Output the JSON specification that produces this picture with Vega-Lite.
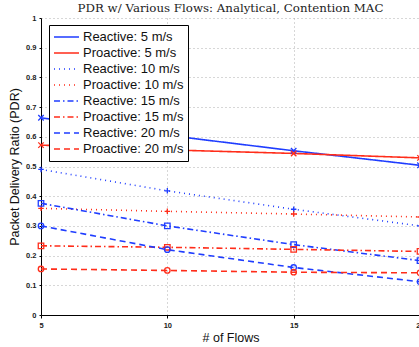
{
  "$schema": "https://vega.github.io/schema/vega-lite/v6.json",
  "autosize": {"type": "none"},
  "padding": {"left": 41, "top": 18, "right": 0, "bottom": 32},
  "width": 379,
  "height": 297,
  "background": "white",
  "title": {
    "text": "PDR w/ Various Flows: Analytical, Contention MAC",
    "font": "DejaVu Serif",
    "fontSize": 11.8,
    "fontWeight": "normal",
    "color": "#222",
    "offset": 3,
    "dy": 4,
    "anchor": "middle"
  },
  "config": {
    "view": {"stroke": null},
    "font": "Liberation Sans"
  },
  "data": {
    "values": [
      {"flows": 5, "series": "Reactive: 5 m/s", "speed": "5", "pdr": 0.664},
      {"flows": 10, "series": "Reactive: 5 m/s", "speed": "5", "pdr": 0.605},
      {"flows": 15, "series": "Reactive: 5 m/s", "speed": "5", "pdr": 0.553},
      {"flows": 20, "series": "Reactive: 5 m/s", "speed": "5", "pdr": 0.504},
      {"flows": 5, "series": "Proactive: 5 m/s", "speed": "5", "pdr": 0.572},
      {"flows": 10, "series": "Proactive: 5 m/s", "speed": "5", "pdr": 0.556},
      {"flows": 15, "series": "Proactive: 5 m/s", "speed": "5", "pdr": 0.544},
      {"flows": 20, "series": "Proactive: 5 m/s", "speed": "5", "pdr": 0.529},
      {"flows": 5, "series": "Reactive: 10 m/s", "speed": "10", "pdr": 0.49},
      {"flows": 10, "series": "Reactive: 10 m/s", "speed": "10", "pdr": 0.418},
      {"flows": 15, "series": "Reactive: 10 m/s", "speed": "10", "pdr": 0.356},
      {"flows": 20, "series": "Reactive: 10 m/s", "speed": "10", "pdr": 0.30},
      {"flows": 5, "series": "Proactive: 10 m/s", "speed": "10", "pdr": 0.359},
      {"flows": 10, "series": "Proactive: 10 m/s", "speed": "10", "pdr": 0.349},
      {"flows": 15, "series": "Proactive: 10 m/s", "speed": "10", "pdr": 0.340},
      {"flows": 20, "series": "Proactive: 10 m/s", "speed": "10", "pdr": 0.33},
      {"flows": 5, "series": "Reactive: 15 m/s", "speed": "15", "pdr": 0.376},
      {"flows": 10, "series": "Reactive: 15 m/s", "speed": "15", "pdr": 0.30},
      {"flows": 15, "series": "Reactive: 15 m/s", "speed": "15", "pdr": 0.237},
      {"flows": 20, "series": "Reactive: 15 m/s", "speed": "15", "pdr": 0.183},
      {"flows": 5, "series": "Proactive: 15 m/s", "speed": "15", "pdr": 0.233},
      {"flows": 10, "series": "Proactive: 15 m/s", "speed": "15", "pdr": 0.228},
      {"flows": 15, "series": "Proactive: 15 m/s", "speed": "15", "pdr": 0.221},
      {"flows": 20, "series": "Proactive: 15 m/s", "speed": "15", "pdr": 0.214},
      {"flows": 5, "series": "Reactive: 20 m/s", "speed": "20", "pdr": 0.30},
      {"flows": 10, "series": "Reactive: 20 m/s", "speed": "20", "pdr": 0.22},
      {"flows": 15, "series": "Reactive: 20 m/s", "speed": "20", "pdr": 0.16},
      {"flows": 20, "series": "Reactive: 20 m/s", "speed": "20", "pdr": 0.112},
      {"flows": 5, "series": "Proactive: 20 m/s", "speed": "20", "pdr": 0.155},
      {"flows": 10, "series": "Proactive: 20 m/s", "speed": "20", "pdr": 0.150},
      {"flows": 15, "series": "Proactive: 20 m/s", "speed": "20", "pdr": 0.144},
      {"flows": 20, "series": "Proactive: 20 m/s", "speed": "20", "pdr": 0.142}
    ]
  },
  "encoding": {
    "x": {
      "field": "flows",
      "type": "quantitative",
      "scale": {"domain": [5, 20], "nice": false, "zero": false},
      "axis": {
        "values": [5, 10, 15, 20],
        "title": "# of Flows",
        "titleFont": "Liberation Sans",
        "titleFontSize": 12.5,
        "titleFontWeight": "normal",
        "titleColor": "#111",
        "titlePadding": 3,
        "labelFont": "Liberation Sans",
        "labelFontSize": 7.5,
        "labelFontWeight": "bold",
        "labelColor": "#222",
        "labelPadding": 3,
        "labelOverlap": false,
        "labelFlush": false,
        "domainColor": "black",
        "domainWidth": 1,
        "tickColor": "black",
        "tickSize": 3,
        "grid": true,
        "gridColor": "#999",
        "gridDash": [1, 3],
        "gridWidth": 0.8
      }
    },
    "y": {
      "field": "pdr",
      "type": "quantitative",
      "scale": {"domain": [0, 1], "nice": false},
      "axis": {
        "values": [0, 0.1, 0.2, 0.3, 0.4, 0.5, 0.6, 0.7, 0.8, 0.9, 1],
        "format": "~g",
        "title": "Packet Delivery Ratio (PDR)",
        "titleFont": "Liberation Sans",
        "titleFontSize": 12.5,
        "titleFontWeight": "normal",
        "titleColor": "#111",
        "titlePadding": 4,
        "labelFont": "Liberation Sans",
        "labelFontSize": 7.5,
        "labelFontWeight": "bold",
        "labelColor": "#222",
        "labelPadding": 3,
        "labelFlush": false,
        "labelOverlap": false,
        "domainColor": "black",
        "domainWidth": 1,
        "tickColor": "black",
        "tickSize": 2,
        "grid": true,
        "gridColor": "#999",
        "gridDash": [1, 3],
        "gridWidth": 0.8
      }
    },
    "color": {
      "field": "series",
      "type": "nominal",
      "scale": {
        "domain": ["Reactive: 5 m/s", "Proactive: 5 m/s", "Reactive: 10 m/s", "Proactive: 10 m/s", "Reactive: 15 m/s", "Proactive: 15 m/s", "Reactive: 20 m/s", "Proactive: 20 m/s"],
        "range": ["#1f3dff", "#ff2d1a", "#1f3dff", "#ff2d1a", "#1f3dff", "#ff2d1a", "#1f3dff", "#ff2d1a"]
      },
      "legend": {
        "title": null,
        "orient": "none",
        "legendX": 8,
        "legendY": 7,
        "fillColor": "white",
        "strokeColor": "black",
        "padding": 4,
        "symbolType": "stroke",
        "symbolSize": 625,
        "symbolStrokeWidth": 1.6,
        "clipHeight": 16,
        "labelFont": "Liberation Sans",
        "labelFontSize": 13,
        "labelColor": "#111",
        "labelOffset": 3,
        "rowPadding": 0,
        "labelLimit": 200
      }
    }
  },
  "layer": [
    {
      "mark": {"type": "line", "strokeWidth": 1.6},
      "encoding": {
        "strokeDash": {
          "field": "series",
          "type": "nominal",
          "scale": {
            "domain": ["Reactive: 5 m/s", "Proactive: 5 m/s", "Reactive: 10 m/s", "Proactive: 10 m/s", "Reactive: 15 m/s", "Proactive: 15 m/s", "Reactive: 20 m/s", "Proactive: 20 m/s"],
            "range": [[1, 0], [1, 0], [1, 4], [1, 4], [6, 3, 1.5, 3], [6, 3, 1.5, 3], [6, 4], [6, 4]]
          }
        }
      }
    },
    {
      "mark": {"type": "point", "filled": false, "strokeWidth": 1.3, "opacity": 1},
      "encoding": {
        "shape": {
          "field": "speed",
          "type": "nominal",
          "scale": {
            "domain": ["5", "10", "15", "20"],
            "range": ["M-1,-1L1,1M1,-1L-1,1", "M-1,0L1,0M0,-1L0,1", "square", "circle"]
          },
          "legend": null
        },
        "size": {"value": 30}
      }
    }
  ]
}
